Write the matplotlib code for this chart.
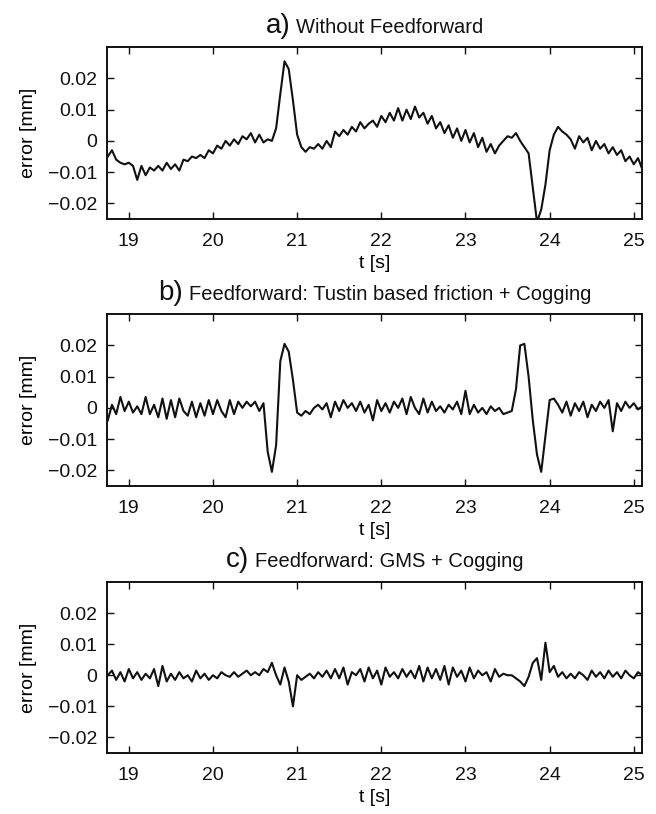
import numpy as np
import matplotlib
matplotlib.use("Agg")
import matplotlib.pyplot as plt
from matplotlib.offsetbox import TextArea, HPacker, AnchoredOffsetbox

plt.rcParams['font.family'] = ['Liberation Sans', 'DejaVu Sans']

t_start, t_end = 18.75, 25.10

err_a_um = [
    -5, -3, -6, -7, -7.5, -7, -8, -12.5, -8, -11,
    -8.5, -9.5, -8, -9.5, -7, -9, -7.5, -9.5, -6, -6.5,
    -5, -5.5, -4.5, -5.5, -3, -4, -1.5, -2.5, 0, -1.5,
    0.5, -1, 1.5, 0.5, 2.5, -0.5, 2, -0.5, 0.5, 0,
    4, 15, 25.5, 23, 13, 2, -2, -3.5, -2, -2.5,
    -1, -2.5, 0, -2, 3, 1.5, 3.5, 2, 4.5, 3,
    6, 4, 5.5, 6.5, 4.5, 8, 6, 9, 6.5, 10.5,
    6.5, 10, 7, 11, 7.5, 9, 5.5, 8, 4, 6,
    2.5, 5, 1, 4, 0, 3.5, -0.5, 2.5, -2, 1,
    -3.5, -1, -4, -1.5, 0, 1.5, 1, 2.5, 0, -2,
    -4, -15, -26, -22, -14, -3, 2, 4.5, 3, 2,
    0.5, -2.5, 1.5, -0.5, 1, -3, 0, -2.5, -1, -4,
    -2, -4.5, -3, -6.5, -5, -7.5, -5.5, -9,
]

err_b_um = [
    -4, 1, -2, 3.5, -1, 2, -1.5, 0.5, -2, 3.5,
    -2, 1, -3, 3, -3.5, 2.5, -3, 3, -1, -2.5,
    2, -3, 1.5, -2.5, 2.5, -2, 2.5, -1, -3, 2.5,
    -2, 2, 0, 2, 0.5, 2, -1, 1.5, -14, -20.5,
    -12, 15, 20.5, 18, 9, -1.5, -2.5, -1, -2, 0,
    1, -0.5, 1.5, -3, 2, -1, 2.5, 0, 1.5, -1,
    2, -1.5, 1, -4, 2.5, -1, 1.5, -1.5, 2, 0,
    3, -2, 3.5, 0, -2, 3, -1.5, 2, -1, 0.5,
    -1.5, 1, -0.5, 2, -2, 5.5, -2, 1, -1.5, 0,
    -2, 0.5, -1, 0, -2, -1.5, -1, 6, 20, 20.5,
    10, -4, -15, -20.5, -9, 2.5, 3, 1, -1.5, 2,
    -2.5, 1.5, -1, 2, -3, 1, -1, 2, 0, 2.5,
    -7.5, 1.5, -1, 2, 0, 1.5, -0.5, 0.5,
]

err_c_um = [
    0, 1.5, -1.5, 1, -2, 2, -1, 1, -1.5, 0.5,
    -1, 2, -3.5, 3, -2, 0.5, -1.5, 1, -1, 0,
    -2, 1.5, -1, 0.5, -1.5, 0, -1, 1, 0, -0.5,
    1, -0.5, 0.5, 1.5, 0, 1, 0, 2, 1, 4,
    0, -3, 2.5, -2, -10, 0, -1.5, -0.5, 0.5, -1,
    1, -0.5, 1.5, -1, 2, -1, 2.5, -3, 1, 0,
    2, -2, 2.5, -1, 1.5, -3, 2.5, -0.5, 1, -1,
    2, -0.5, 1.5, -1, 3, -2, 2.5, -1, 2, -1.5,
    3, -3, 2.5, -0.5, 1.5, -2, 2.5, -1, 1.5, 0,
    1, -2, 2, -0.5, 0.5, 0, 0, -1, -2, -3.5,
    -0.5, 4, 5.5, -1.5, 10.5, 1, 3, -0.5, 1, -1,
    0.5, -1, 1, 0, -1.5, 1.5, -0.5, 1, -1, 1.5,
    -0.5, 1, -1, 1.5, 0, -1, 1, 0,
]

panel_letters = ["a)", "b)", "c)"]
panel_titles = ["Without Feedforward",
                "Feedforward: Tustin based friction + Cogging",
                "Feedforward: GMS + Cogging"]
y_ticks = [-0.02, -0.01, 0, 0.01, 0.02]
y_ticklabels = ["\u22120.02", "\u22120.01", "0", "0.01", "0.02"]
x_ticks = [19, 20, 21, 22, 23, 24, 25]

fig = plt.figure(figsize=(6.56, 8.14), dpi=100)

# [left, bottom, width, height] in figure fractions
axes_rects = [
    [0.163, 0.731, 0.816, 0.211],
    [0.163, 0.403, 0.816, 0.211],
    [0.163, 0.075, 0.816, 0.210],
]

for rect, series, letter, title in zip(axes_rects, [err_a_um, err_b_um, err_c_um],
                                       panel_letters, panel_titles):
    ax = fig.add_axes(rect)
    t = np.linspace(t_start, t_end, len(series))
    ax.plot(t, np.array(series) * 1e-3, color="#111111", lw=1.5)

    ax.set_xlim(18.74, 25.1)
    ax.set_ylim(-0.025, 0.03)
    ax.set_xticks(x_ticks)
    ax.set_yticks(y_ticks)
    ax.set_yticklabels(y_ticklabels)
    ax.tick_params(direction="in", top=True, right=True, length=5, width=1,
                   labelsize=14, colors="#111111")
    ax.tick_params(axis="x", pad=10)
    ax.tick_params(axis="y", pad=7)
    for s in ax.spines.values():
        s.set_linewidth(1.4)
        s.set_color("#111111")

    ax.set_xlabel("t [s]", fontsize=14, labelpad=4)
    ax.set_ylabel("error [mm]", fontsize=14, labelpad=8)

    # title: big letter followed by smaller text
    box = HPacker(children=[TextArea(letter, textprops=dict(size=20, color="#111111")),
                            TextArea(title, textprops=dict(size=14.5, color="#111111"))],
                  align="baseline", pad=0, sep=4)
    anchored = AnchoredOffsetbox(loc="lower center", child=box, pad=0, borderpad=0,
                                 frameon=False, bbox_to_anchor=(0.5, 1.05),
                                 bbox_transform=ax.transAxes)
    ax.add_artist(anchored)

fig.savefig("out.png", dpi=100)
